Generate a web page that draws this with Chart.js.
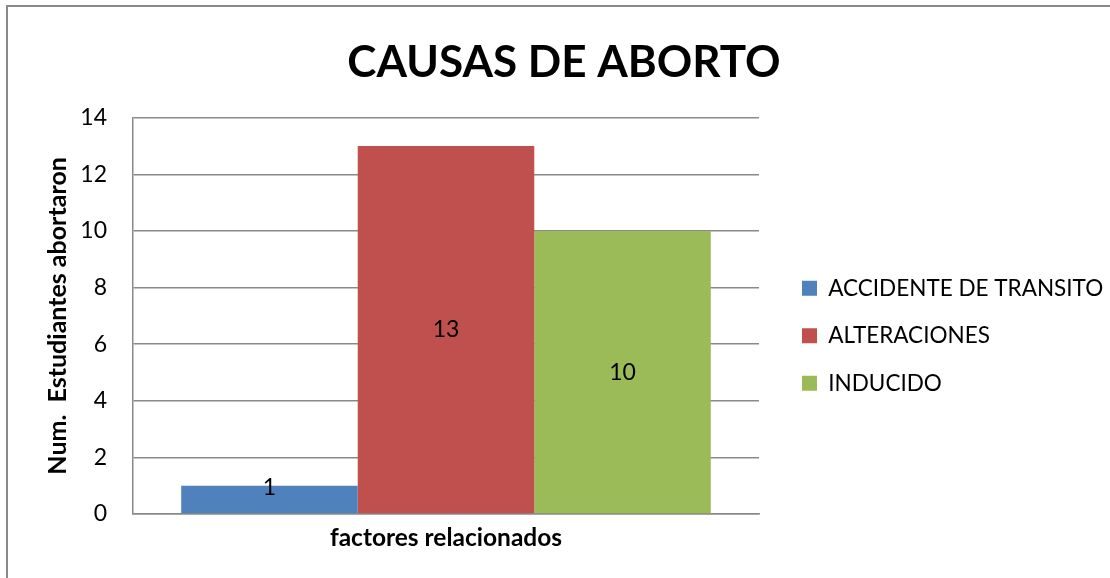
<!DOCTYPE html>
<html>
<head>
<meta charset="utf-8">
<script src="https://cdn.jsdelivr.net/npm/chart.js@4.4.0/dist/chart.umd.min.js"></script>
<style>
  html, body { margin: 0; padding: 0; background: #fff; overflow: hidden; }
  #wrap { position: relative; width: 1110px; height: 578px; }
  #frame { position: absolute; left: 6px; top: 5px; width: 1200px; height: 700px; border: 2px solid #898989; }
  canvas { position: absolute; left: 0; top: 0; }
</style>
</head>
<body>
<div id="wrap">
  <div id="frame"></div>
  <canvas id="abortoChart" width="1110" height="578"></canvas>
</div>
<script>
// chart data
const categories = ['factores relacionados'];
const seriesNames = ['ACCIDENTE DE TRANSITO', 'ALTERACIONES', 'INDUCIDO'];
const accidente = [1];
const alteraciones = [13];
const inducido = [10];
const yTicks = [0, 2, 4, 6, 8, 10, 12, 14];
const colors = ['#4F81BD', '#C0504D', '#9BBB59'];

const FONT = 'Lato';
const GRID = '#898989';

// numbers in the middle of each bar
const valueLabels = {
    id: 'valueLabels',
    afterDatasetsDraw(chart) {
        const ctx = chart.ctx;
        ctx.save();
        ctx.font = '23px ' + FONT;
        ctx.fillStyle = '#000';
        ctx.textAlign = 'center';
        ctx.textBaseline = 'middle';
        chart.data.datasets.forEach((ds, i) => {
            chart.getDatasetMeta(i).data.forEach((bar, j) => {
                const mid = (bar.y + bar.base) / 2;
                ctx.fillText(ds.data[j], bar.x, Math.min(mid, bar.base - 26));
            });
        });
        ctx.restore();
    }
};

const series = [accidente, alteraciones, inducido];

new Chart(document.getElementById('abortoChart').getContext('2d'), {
    type: 'bar',
    data: {
        labels: categories,
        datasets: seriesNames.map((name, i) => ({
            label: name,
            data: series[i],
            backgroundColor: colors[i],
            borderWidth: 0,
            categoryPercentage: 0.846,
            barPercentage: 1
        }))
    },
    options: {
        responsive: false,
        animation: false,
        layout: { padding: { left: 18, right: 0, top: 0, bottom: 0 } },
        plugins: {
            title: {
                display: true,
                text: 'CAUSAS DE ABORTO',
                color: '#000',
                font: { family: FONT, size: 44, weight: 'bold' },
                padding: { top: 36, bottom: 29 }
            },
            legend: {
                position: 'right',
                align: 'start',
                maxWidth: 333,
                title: { display: true, text: '', font: { size: 10 }, padding: { top: 240, bottom: 0 } },
                labels: {
                    boxWidth: 15,
                    boxHeight: 15,
                    padding: 25,
                    color: '#000',
                    font: { family: FONT, size: 22.5 }
                }
            },
            tooltip: { enabled: false }
        },
        scales: {
            x: {
                grid: { display: false },
                border: { display: true, color: GRID, width: 1.5 },
                ticks: { color: '#000', font: { family: FONT, size: 24.5, weight: 'bold' }, padding: 1 },
                afterFit(scale) { scale.height = 64; }
            },
            y: {
                min: yTicks[0],
                max: yTicks[yTicks.length - 1],
                ticks: {
                    stepSize: yTicks[1] - yTicks[0],
                    color: '#000',
                    font: { family: FONT, size: 23 },
                    padding: 26
                },
                grid: { color: GRID, lineWidth: 1.5, drawTicks: false },
                border: { color: GRID, width: 1.5 },
                title: {
                    display: true,
                    text: 'Num.  Estudiantes abortaron',
                    color: '#000',
                    font: { family: FONT, size: 25, weight: 'bold' },
                    padding: { top: 25, bottom: 0 }
                },
                afterFit(scale) { scale.width = 115; }
            },
            // empty axis, only keeps the legend away from the plot
            gap: {
                type: 'linear',
                position: 'right',
                min: 0,
                max: 1,
                grid: { display: false },
                border: { display: false },
                ticks: { display: false },
                afterFit(scale) { scale.width = 18; }
            }
        }
    },
    plugins: [valueLabels]
});
</script>
</body>
</html>
